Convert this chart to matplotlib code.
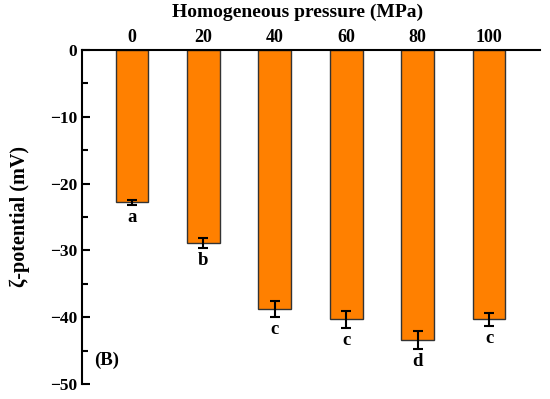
import matplotlib
matplotlib.use("Agg")
import matplotlib.pyplot as plt
from matplotlib.ticker import MultipleLocator

# data
pressure = [0, 20, 40, 60, 80, 100]
zeta = [-22.8, -28.9, -38.8, -40.3, -43.4, -40.3]
zeta_err = [0.4, 0.7, 1.2, 1.3, 1.3, 1.0]
letters = ["a", "b", "c", "c", "d", "c"]

plt.rcParams["font.family"] = ["Liberation Serif", "DejaVu Serif"]
plt.rcParams["font.weight"] = "bold"

fig = plt.figure(figsize=(5.5, 3.99), dpi=100)
ax = fig.add_axes([0.149, 0.0376, 0.833, 0.8371])

ax.bar(pressure, zeta, width=9.2, color="#FF8000", edgecolor="#333333", linewidth=1.0,
       yerr=zeta_err, error_kw=dict(ecolor="black", elinewidth=1.5, capsize=3.5, capthick=1.5))

for x, y, e, t in zip(pressure, zeta, zeta_err, letters):
    ax.annotate(t, (x, y - e), xytext=(0, -3), textcoords="offset points",
                ha="center", va="top", fontsize=13.5, fontweight="bold")

ax.set_xlim(-14, 114.3)
ax.set_ylim(-50, 0)
ax.xaxis.tick_top()
ax.xaxis.set_label_position("top")
ax.set_xticks(pressure)
ax.tick_params(axis="x", length=0, labelsize=13, pad=3)
ax.yaxis.set_major_locator(MultipleLocator(10))
ax.yaxis.set_minor_locator(MultipleLocator(5))
ax.tick_params(axis="y", which="major", direction="in", length=6, width=1.5, labelsize=12.5)
ax.tick_params(axis="y", which="minor", direction="in", length=4, width=1.5)
ax.set_yticks(range(-50, 1, 10))
ax.set_yticklabels([f"\u2212{abs(v)}" if v < 0 else f"{v}" for v in range(-50, 1, 10)])

for s in ["right", "bottom"]:
    ax.spines[s].set_visible(False)
ax.spines["left"].set_linewidth(1.5)
ax.spines["top"].set_linewidth(1.5)

ax.set_xlabel("Homogeneous pressure (MPa)", fontsize=14, fontweight="bold")
ax.xaxis.set_label_coords(0.47, 1.1)
ax.set_ylabel("\u03b6-potential (mV)", fontsize=14.5, fontweight="bold", labelpad=14)
ax.text(-10.5, -46.5, "(B)", fontsize=13.5, fontweight="bold", ha="left", va="center")

fig.savefig("out.png", dpi=100)
